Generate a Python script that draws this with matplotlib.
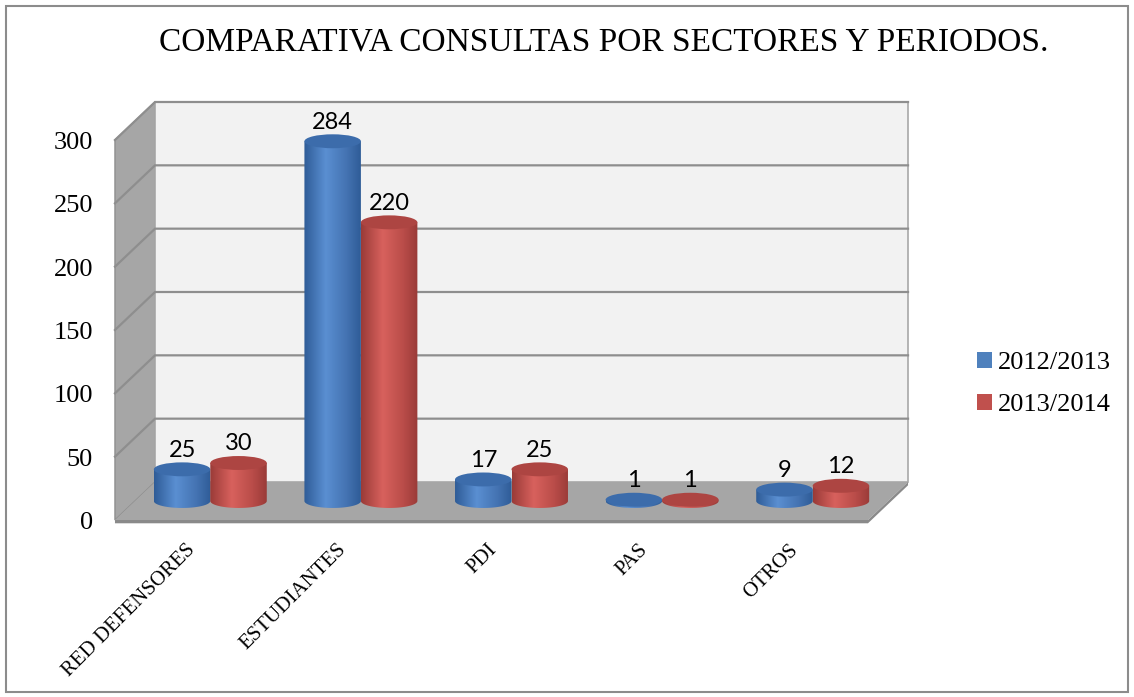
import numpy as np
import matplotlib.pyplot as plt
from matplotlib.patches import Polygon, Ellipse, Rectangle, Patch
from matplotlib.colors import LinearSegmentedColormap

categories = ['RED DEFENSORES', 'ESTUDIANTES', 'PDI', 'PAS', 'OTROS']
series_names = ['2012/2013', '2013/2014']
consultas_2012 = [25, 284, 17, 1, 9]
consultas_2013 = [30, 220, 25, 1, 12]
y_ticks = [0, 50, 100, 150, 200, 250, 300]

title = 'COMPARATIVA CONSULTAS POR SECTORES Y PERIODOS.'
serif = 'Liberation Serif'

W, H = 1134, 697
n = len(categories)
ymax = y_ticks[-1]

# mid-depth plane: value 0 sits at 501 px from the top, 300 at 121 px
px_per_unit = 380 / ymax
y_lo, y_hi = -40, ymax + 40
top_px = 501 - y_hi * px_per_unit
bot_px = 501 - y_lo * px_per_unit

fig = plt.figure(figsize=(W / 100, H / 100), dpi=100)
ax = fig.add_axes([135 / W, (H - bot_px) / H, 753 / W, (bot_px - top_px) / H])

dx, dy = 0.133, 15.0   # half depth of the box (category units, value units)
ell = 5.5              # half height of the cylinder ends
bar_w = 0.375
thick = 2.6            # floor slab thickness

# walls and floor
ax.add_patch(Polygon([(-dx, -dy), (dx, dy), (dx, ymax + dy), (-dx, ymax - dy)],
                     fc='#a6a6a6', ec='#8e8e8e', lw=1, zorder=1, clip_on=False))
ax.add_patch(Polygon([(dx, dy), (n + dx, dy), (n + dx, ymax + dy), (dx, ymax + dy)],
                     fc='#f2f2f2', ec='#a8a8a8', lw=1.2, zorder=1, clip_on=False))
ax.add_patch(Polygon([(-dx, -dy), (n - dx, -dy), (n + dx, dy), (dx, dy)],
                     fc='#a6a6a6', ec='none', zorder=2, clip_on=False))
ax.add_patch(Polygon([(-dx, -dy), (n - dx, -dy), (n + dx, dy), (n + dx, dy - thick),
                      (n - dx, -dy - thick), (-dx, -dy - thick)],
                     fc='#8a8a8a', ec='none', zorder=2, clip_on=False))

for t in y_ticks[1:]:
    ax.plot([-dx, dx, n + dx], [t - dy, t + dy, t + dy], color='#8e8e8e', lw=1.6,
            zorder=1.5, solid_joinstyle='miter', clip_on=False)

for t in y_ticks:
    ax.text(-dx - 0.146, t - dy - 2.5, str(t), ha='right', va='center', fontsize=19,
            family=serif)


def shade(dark, light, edge):
    return LinearSegmentedColormap.from_list(
        'cyl', [(0, dark), (0.38, light), (0.75, edge), (1, dark)])


styles = [
    dict(cmap=shade('#2f5c97', '#5a8fd2', '#4473b2'), top='#3c6cab'),
    dict(cmap=shade('#9a3b38', '#d8615d', '#b94c49'), top='#ad4542'),
]
grad = np.linspace(0, 1, 128).reshape(1, -1)


def cylinder(xc, v, style, z):
    x0, x1 = xc - bar_w / 2, xc + bar_w / 2
    t = np.linspace(np.pi, 2 * np.pi, 60)
    outline = list(zip(xc + bar_w / 2 * np.cos(t), ell * np.sin(t))) + [(x1, v), (x0, v)]
    body = Polygon(outline, closed=True, transform=ax.transData)
    im = ax.imshow(grad, extent=[x0, x1, -ell, v], aspect='auto', cmap=style['cmap'],
                   interpolation='bilinear', zorder=z)
    im.set_clip_path(body)
    ax.add_patch(Ellipse((xc, v), bar_w, 2 * ell, fc=style['top'], ec='none', zorder=z + 0.1))
    ax.text(xc, v + 10, str(v), ha='center', va='baseline', fontsize=17, family='Lato',
            zorder=z + 0.2)


for s, values in enumerate([consultas_2012, consultas_2013]):
    for i, v in enumerate(values):
        xc = i + 0.5 + (s - 0.5) * bar_w
        cylinder(xc, v, styles[s], 3 + i + 0.5 * s)

for i, cat in enumerate(categories):
    ax.text(i + 0.5 - 0.16, -dy - 16, cat, rotation=45, rotation_mode='anchor',
            ha='right', va='top', fontsize=15, family=serif)

ax.set_xlim(0, n)
ax.set_ylim(y_lo, y_hi)
ax.axis('off')

fig.text(604 / W, 1 - 42 / H, title, ha='center', va='center', fontsize=24, family=serif)

fig.legend(handles=[Patch(fc='#4f81bd'), Patch(fc='#c0504d')], labels=series_names,
           loc='center left', bbox_to_anchor=(977 / W, 1 - 384 / H), frameon=False,
           prop={'family': serif, 'size': 19}, handlelength=0.55, handleheight=0.55,
           handletextpad=0.25, labelspacing=0.75, borderpad=0, borderaxespad=0)

fig.add_artist(Rectangle((6 / W, 5 / H), 1122 / W, 686 / H, transform=fig.transFigure,
                         fill=False, ec='#8c8c8c', lw=1.5))

fig.savefig('out.png', dpi=100)
